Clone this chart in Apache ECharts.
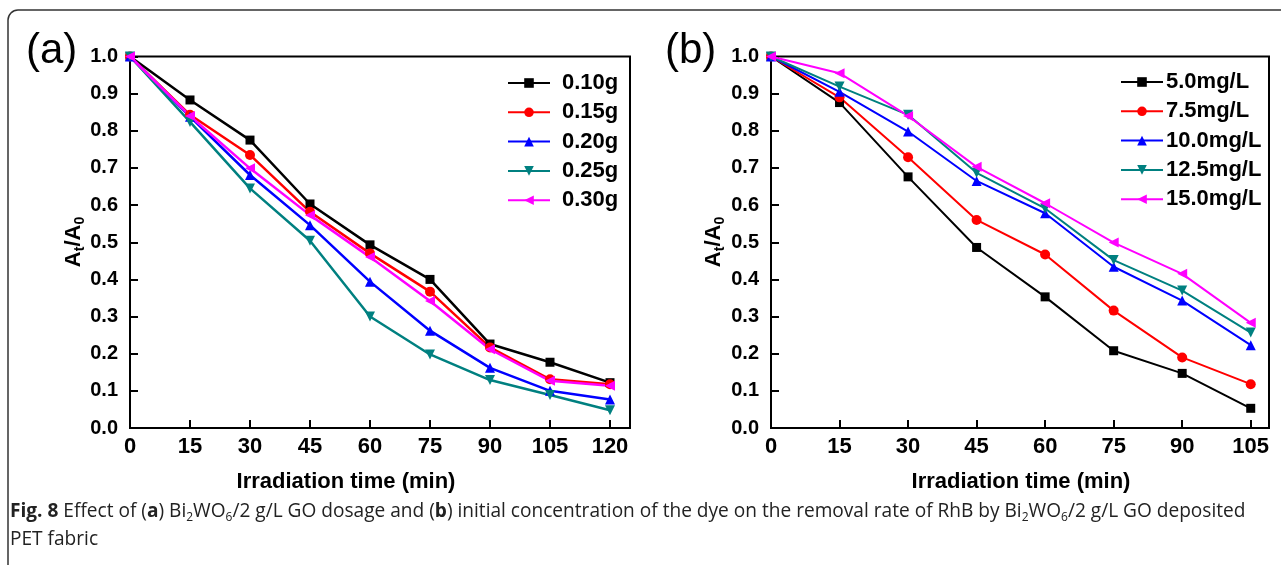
<!DOCTYPE html>
<html><head><meta charset="utf-8">
<script src="https://cdn.jsdelivr.net/npm/echarts@6/dist/echarts.min.js"></script>
<style>html,body{margin:0;padding:0;background:#fff}#c{width:1281px;height:565px}</style>
</head><body><div id="c"></div>
<script>
// ---- data ----
const timeA = [0, 15, 30, 45, 60, 75, 90, 105, 120];
const namesA = ['0.10g', '0.15g', '0.20g', '0.25g', '0.30g'];
const a010 = [1.0, 0.883, 0.775, 0.603, 0.493, 0.400, 0.226, 0.177, 0.122];
const a015 = [1.0, 0.843, 0.735, 0.582, 0.470, 0.367, 0.217, 0.131, 0.118];
const a020 = [1.0, 0.838, 0.681, 0.546, 0.394, 0.262, 0.162, 0.100, 0.077];
const a025 = [1.0, 0.824, 0.645, 0.504, 0.300, 0.198, 0.129, 0.089, 0.048];
const a030 = [1.0, 0.840, 0.699, 0.573, 0.460, 0.342, 0.212, 0.127, 0.114];

const timeB = [0, 15, 30, 45, 60, 75, 90, 105];
const namesB = ['5.0mg/L', '7.5mg/L', '10.0mg/L', '12.5mg/L', '15.0mg/L'];
const b050 = [1.0, 0.876, 0.676, 0.486, 0.353, 0.208, 0.147, 0.053];
const b075 = [1.0, 0.890, 0.729, 0.560, 0.467, 0.316, 0.190, 0.118];
const b100 = [1.0, 0.905, 0.798, 0.665, 0.578, 0.434, 0.343, 0.223];
const b125 = [1.0, 0.919, 0.843, 0.687, 0.591, 0.452, 0.370, 0.257];
const b150 = [1.0, 0.955, 0.840, 0.703, 0.605, 0.499, 0.415, 0.283];

const yTicks = [0, 0.1, 0.2, 0.3, 0.4, 0.5, 0.6, 0.7, 0.8, 0.9, 1.0];

// ---- styles ----
const colors = ['#000000', '#ff0000', '#0000ff', '#008080', '#ff00ff'];
const symbols = ['rect', 'circle', 'triangle', 'triangle', 'triangle'];
const rots = [0, 0, 0, 180, 90];
const FONT = '"Liberation Sans", Arial, sans-serif';
const CFONT = '"Open Sans", sans-serif';

function mkSeries(names, time, arrs, axisIdx, lw) {
  return arrs.map((vals, k) => ({
    name: names[k], type: 'line', xAxisIndex: axisIdx, yAxisIndex: axisIdx,
    data: time.map((t, i) => [t, vals[i]]),
    symbol: symbols[k], symbolRotate: rots[k], symbolSize: k === 0 ? 9 : 10,
    showSymbol: true,
    lineStyle: { color: colors[k], width: lw },
    itemStyle: { color: colors[k] },
    emphasis: { disabled: true }, animation: false
  }));
}

function xAx(idx, max) {
  return {
    type: 'value', gridIndex: idx, min: 0, max: max, interval: 15,
    axisLine: { onZero: false, lineStyle: { color: '#000', width: 2 } },
    axisTick: { inside: true, length: 8, lineStyle: { color: '#000', width: 2 } },
    axisLabel: { showMaxLabel: false, margin: 8, color: '#000', fontFamily: FONT, fontWeight: 'bold', fontSize: 22,
      formatter: v => (v % 15 === 0 ? String(v) : '') },
    splitLine: { show: false }
  };
}
function yAx(idx) {
  return {
    type: 'value', gridIndex: idx, min: yTicks[0], max: yTicks[yTicks.length - 1], interval: 0.1,
    axisLine: { lineStyle: { color: '#000', width: 2 } },
    axisTick: { inside: true, length: 8, lineStyle: { color: '#000', width: 2 } },
    axisLabel: { margin: 12, color: '#000', fontFamily: FONT, fontWeight: 'bold', fontSize: 20,
      formatter: v => v.toFixed(1) },
    splitLine: { show: false }
  };
}

const subRich = {
  m: { fontFamily: FONT, fontWeight: 'bold', fontSize: 22, fill: '#000', color: '#000' },
  s: { fontFamily: FONT, fontWeight: 'bold', fontSize: 14, fill: '#000', color: '#000', padding: [13, 0, 0, 0] }
};
const capRich = {
  n: { fontFamily: CFONT, fontSize: 19.1, color: '#222', fill: '#222' },
  b: { fontFamily: CFONT, fontSize: 19.1, fontWeight: 'bold', color: '#222', fill: '#222' },
  s: { fontFamily: CFONT, fontSize: 12, color: '#222', fill: '#222', padding: [11, 0, 0, 0] }
};

const chart = echarts.init(document.getElementById('c'), null, { renderer: 'canvas' });
chart.setOption({
  animation: false,
  grid: [
    { left: 130, top: 56.5, width: 500, height: 371.5, show: true, borderColor: '#000', borderWidth: 2, backgroundColor: 'transparent' },
    { left: 771, top: 56.5, width: 498, height: 371.5, show: true, borderColor: '#000', borderWidth: 2, backgroundColor: 'transparent' }
  ],
  xAxis: [xAx(0, 125), xAx(1, 109)],
  yAxis: [yAx(0), yAx(1)],
  legend: [
    { data: namesA, orient: 'vertical', left: 502, top: 67, itemWidth: 42, itemHeight: 12, itemGap: 7.3,
      textStyle: { fontFamily: FONT, fontWeight: 'bold', fontSize: 22, color: '#000', lineHeight: 22, padding: [0, 0, 0, 7] } },
    { data: namesB, orient: 'vertical', left: 1115, top: 66, itemWidth: 42, itemHeight: 12, itemGap: 7.3,
      textStyle: { fontFamily: FONT, fontWeight: 'bold', fontSize: 22, color: '#000', lineHeight: 22, padding: [0, 0, 0, -2] } }
  ],
  series: [
    ...mkSeries(namesA, timeA, [a010, a015, a020, a025, a030], 0, 2.5),
    ...mkSeries(namesB, timeB, [b050, b075, b100, b125, b150], 1, 2)
  ],
  graphic: [
    { type: 'rect', shape: { x: 8, y: 10, width: 1320, height: 620, r: 10 }, style: { fill: 'none', stroke: '#333', lineWidth: 1.5 }, silent: true, z: -1 },
    { type: 'text', x: 26, y: 51, style: { text: '(a)', fontFamily: FONT, fontSize: 42, fill: '#000', textVerticalAlign: 'middle' } },
    { type: 'text', x: 665, y: 51, style: { text: '(b)', fontFamily: FONT, fontSize: 42, fill: '#000', textVerticalAlign: 'middle' } },
    { type: 'text', x: 74, y: 242, rotation: Math.PI / 2, style: { text: '{m|A}{s|t}{m|/A}{s|0}', rich: subRich, textAlign: 'center', textVerticalAlign: 'middle' } },
    { type: 'text', x: 714, y: 242, rotation: Math.PI / 2, style: { text: '{m|A}{s|t}{m|/A}{s|0}', rich: subRich, textAlign: 'center', textVerticalAlign: 'middle' } },
    { type: 'text', x: 346, y: 482, style: { text: 'Irradiation time (min)', fontFamily: FONT, fontWeight: 'bold', fontSize: 22, fill: '#000', textAlign: 'center', textVerticalAlign: 'middle' } },
    { type: 'text', x: 1021, y: 482, style: { text: 'Irradiation time (min)', fontFamily: FONT, fontWeight: 'bold', fontSize: 22, fill: '#000', textAlign: 'center', textVerticalAlign: 'middle' } },
    { type: 'text', x: 10, y: 512, style: { rich: capRich, textVerticalAlign: 'middle',
      text: '{b|Fig. 8}{n| Effect of (}{b|a}{n|) Bi}{s|2}{n|WO}{s|6}{n|/2 g/L GO dosage and (}{b|b}{n|) initial concentration of the dye on the removal rate of RhB by Bi}{s|2}{n|WO}{s|6}{n|/2 g/L GO deposited}' } },
    { type: 'text', x: 10, y: 540, style: { rich: capRich, textVerticalAlign: 'middle', text: '{n|PET fabric}' } }
  ]
});
</script></body></html>
